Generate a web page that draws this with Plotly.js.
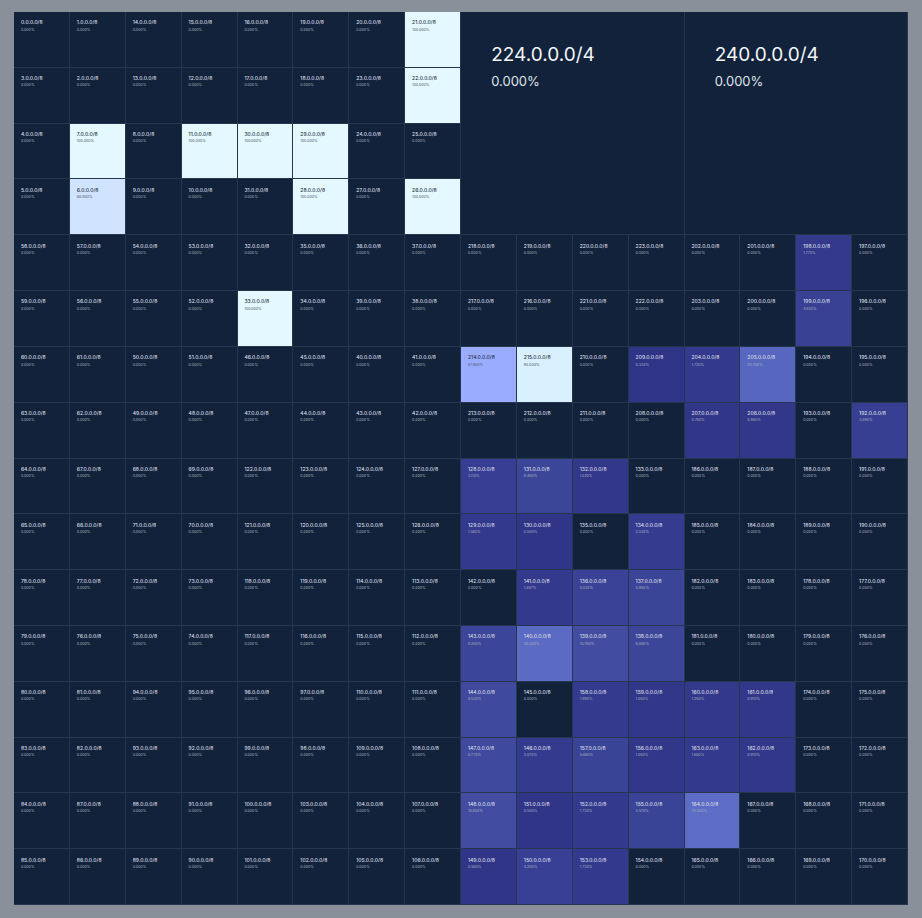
<!DOCTYPE html>
<html><head><meta charset="utf-8">
<script src="https://cdn.plot.ly/plotly-3.0.1.min.js"></script>
<style>html,body{margin:0;padding:0;background:#8a9099;}#chart{width:922px;height:918px;}</style>
</head><body><div id="chart"></div>
<script>
// Share (%) of each /8 block, indexed by first octet 0..223
const pct8 = [
  0,0,0,0,0,0,88.9,100,0,0,0,100,0,0,0,0,
  0,0,0,0,0,100,100,0,0,0,100,0,100,100,100,0,
  0,100,0,0,0,0,0,0,0,0,0,0,0,0,0,0,
  0,0,0,0,0,0,0,0,0,0,0,0,0,0,0,0,
  0,0,0,0,0,0,0,0,0,0,0,0,0,0,0,0,
  0,0,0,0,0,0,0,0,0,0,0,0,0,0,0,0,
  0,0,0,0,0,0,0,0,0,0,0,0,0,0,0,0,
  0,0,0,0,0,0,0,0,0,0,0,0,0,0,0,0,
  3.11,1.58,0.58,6.46,1.02,0,2.53,0,5.03,5.95,6.66,10.76,30.0,1.667,0,6.26,
  8.53,0,2.07,8.77,10.85,0.58,4.26,0.58,1.72,1.72,0,5.57,1.06,5.66,1.99,1.06,
  1.26,0.91,0.91,1.60,33.0,0,0,0,0,0,0,0,0,0,0,0,
  0,0,0,0,0,0,0,0,0,0,0,0,0,0,0,0,
  3.69,0,0,0,0,0,1.77,4.62,0,0,0,0,1.72,25.7,0.96,0.78,
  0,0.33,0,0,0,0,61.9,95.0,0,0,0,0,0,0,0,0
];
// The two /4 blocks at the end of the space
const slash4First = [224, 240];
const pct4 = [0, 0];

const colorscale = [
  [0,'#12223a'],[0.003,'#303487'],[0.01,'#323789'],[0.03,'#363d92'],
  [0.06,'#3b4598'],[0.11,'#424da2'],[0.25,'#5765bd'],[0.35,'#5e6ec6'],
  [0.62,'#9aacff'],[0.89,'#d0e4ff'],[0.95,'#d8f0ff'],[1,'#e3f8ff']
];

// Hilbert curve index -> (col,row) on a 16x16 grid
function d2xy(n, d){
  let x=0,y=0,t=d;
  for(let s=1;s<n;s*=2){
    const rx = 1 & Math.floor(t/2);
    const ry = 1 & (t ^ rx);
    if(ry===0){ if(rx===1){ x=s-1-x; y=s-1-y; } const tmp=x; x=y; y=tmp; }
    x += s*rx; y += s*ry;
    t = Math.floor(t/4);
  }
  return [x,y];
}

const N = 16;
const z = Array.from({length:N},()=>Array(N).fill(null));
const lx=[],ly=[],lt=[],lc=[],pc=[],px=[],py=[],pt=[];
pct8.forEach((v,d)=>{
  const [c,r] = d2xy(N,d);
  z[r][c] = v;
  lc.push(v>50 ? '#2a3446' : '#d6dbe3');
  pc.push(v>50 ? '#4a5566' : '#a9b1be');
  lx.push(c+0.125); ly.push(r+0.2); lt.push(d+'.0.0.0/8');
  px.push(c+0.125); py.push(r+0.318); pt.push(v.toFixed(3)+'%');
});
const edges = Array.from({length:N+1},(_,i)=>i);

// /4 blocks
const bx=[],by=[],bt=[],bpx=[],bpy=[],bpt=[],bEdgesX=[],bz=[];
let bRow0=Infinity,bRow1=-Infinity;
slash4First.forEach((first,k)=>{
  let cmin=Infinity,rmin=Infinity,cmax=-Infinity,rmax=-Infinity;
  for(let d=first; d<first+16; d++){
    const [c,r]=d2xy(N,d);
    cmin=Math.min(cmin,c); rmin=Math.min(rmin,r); cmax=Math.max(cmax,c); rmax=Math.max(rmax,r);
  }
  if(k===0) bEdgesX.push(cmin);
  bEdgesX.push(cmax+1);
  bRow0=Math.min(bRow0,rmin); bRow1=Math.max(bRow1,rmax+1);
  bz.push(pct4[k]);
  bx.push(cmin+0.54); by.push(rmin+0.8); bt.push(first+'.0.0.0/4');
  bpx.push(cmin+0.54); bpy.push(rmin+1.26); bpt.push(pct4[k].toFixed(3)+'%');
});

const traces = [
  {type:'heatmap', x:edges, y:edges, z:z, zmin:0, zmax:100, colorscale:colorscale,
   showscale:false, xgap:1, ygap:1, hoverinfo:'skip'},
  {type:'heatmap', x:bEdgesX, y:[bRow0,bRow1], z:[bz], zmin:0, zmax:100, colorscale:colorscale,
   showscale:false, xgap:1, ygap:1, hoverinfo:'skip'},
  {type:'scatter', mode:'text', x:lx, y:ly, text:lt, textposition:'middle right',
   textfont:{family:'Inter, sans-serif', size:5, color:lc, weight:500}, hoverinfo:'skip', cliponaxis:false},
  {type:'scatter', mode:'text', x:px, y:py, text:pt, textposition:'middle right',
   textfont:{family:'Inter, sans-serif', size:3.6, color:pc}, hoverinfo:'skip', cliponaxis:false},
  {type:'scatter', mode:'text', x:bx, y:by, text:bt, textposition:'middle right',
   textfont:{family:'Inter, sans-serif', size:19, color:'#f2f5f9'}, hoverinfo:'skip', cliponaxis:false},
  {type:'scatter', mode:'text', x:bpx, y:bpy, text:bpt, textposition:'middle right',
   textfont:{family:'Inter, sans-serif', size:13, color:'#dfe4ea'}, hoverinfo:'skip', cliponaxis:false}
];

const layout = {
  width:922, height:918,
  margin:{l:14, r:14, t:12, b:13, pad:0},
  paper_bgcolor:'#8a9099', plot_bgcolor:'#26364e',
  showlegend:false,
  xaxis:{range:[0,16], visible:false, fixedrange:true},
  yaxis:{range:[16,0], visible:false, fixedrange:true}
};
Plotly.newPlot('chart', traces, layout, {staticPlot:true, displayModeBar:false});
</script>
</body></html>
